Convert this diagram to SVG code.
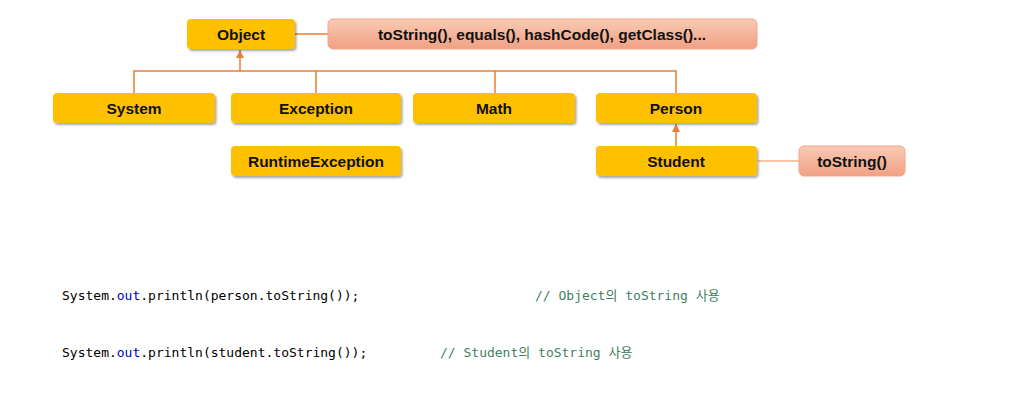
<svg xmlns="http://www.w3.org/2000/svg" width="1019" height="400" viewBox="0 0 1019 400">
<defs>
<filter id="sh" x="-10%" y="-20%" width="125%" height="160%">
<feDropShadow dx="1.5" dy="2" stdDeviation="1.2" flood-color="#000" flood-opacity="0.35"/>
</filter>
<linearGradient id="salmon" x1="0" y1="0" x2="0" y2="1">
<stop offset="0" stop-color="#F9C9B4"/>
<stop offset="1" stop-color="#F0A184"/>
</linearGradient>
<marker id="arr" viewBox="0 0 10 10" refX="10" refY="5" markerWidth="8" markerHeight="8" markerUnits="userSpaceOnUse" orient="auto">
<path d="M0,0 L10,5 L0,10 z" fill="#ED7D31"/>
</marker>
<style>
.y{fill:#FFC000;filter:url(#sh)}
.s{fill:url(#salmon);stroke:#F2A58A;stroke-width:1}
.t{font-family:"Malgun Gothic","Liberation Sans","Noto Sans CJK KR",sans-serif;font-weight:bold;font-size:15.5px;fill:#111;text-anchor:middle}
.c{fill:none;stroke:#ED7D31;stroke-width:1.5}
.cl{fill:none;stroke:#F4B183;stroke-width:1.5}
.code{font-family:"DejaVu Sans Mono","Noto Sans CJK KR",monospace;font-size:13px;fill:#000}
.kw{fill:#0000C0}
.cm{fill:#3F7F5F}
</style>
</defs>
<g id="connectors">
<path class="c" d="M295,34 H328"/>
<path class="c" d="M134,93 V71 H676 V93 M316,71 V93 M495,71 V93"/>
<path class="c" d="M240,71 V50" marker-end="url(#arr)"/>
<path class="c" d="M676,146 V124" marker-end="url(#arr)"/>
<path class="cl" d="M758,161 H799"/>
</g>
<g id="node-object"><rect class="y" x="187" y="19" width="108" height="30" rx="4"/><text class="t" x="241" y="39.5">Object</text></g>
<g id="node-object-methods"><rect class="s" x="328" y="19" width="429" height="30" rx="5"/><text class="t" x="542" y="39.5">toString(), equals(), hashCode(), getClass()...</text></g>
<g id="node-system"><rect class="y" x="53" y="93" width="162" height="30" rx="4"/><text class="t" x="134" y="113.5">System</text></g>
<g id="node-exception"><rect class="y" x="231" y="93" width="170" height="30" rx="4"/><text class="t" x="316" y="113.5">Exception</text></g>
<g id="node-math"><rect class="y" x="413" y="93" width="162" height="30" rx="4"/><text class="t" x="494" y="113.5">Math</text></g>
<g id="node-person"><rect class="y" x="596" y="93" width="161" height="30" rx="4"/><text class="t" x="676" y="113.5">Person</text></g>
<g id="node-runtimeexception"><rect class="y" x="231" y="146" width="170" height="30" rx="4"/><text class="t" x="316" y="166.5">RuntimeException</text></g>
<g id="node-student"><rect class="y" x="596" y="146" width="161" height="30" rx="4"/><text class="t" x="676" y="166.5">Student</text></g>
<g id="node-student-tostring"><rect class="s" x="799" y="146" width="106" height="30" rx="5"/><text class="t" x="852" y="166.5">toString()</text></g>
<g id="code">
<text class="code" x="62" y="300">System.<tspan class="kw">out</tspan>.println(person.toString());</text>
<text class="code cm" x="535" y="300">// Object의 toString 사용</text>
<text class="code" x="62" y="357">System.<tspan class="kw">out</tspan>.println(student.toString());</text>
<text class="code cm" x="440" y="357">// Student의 toString 사용</text>
</g>
</svg>
